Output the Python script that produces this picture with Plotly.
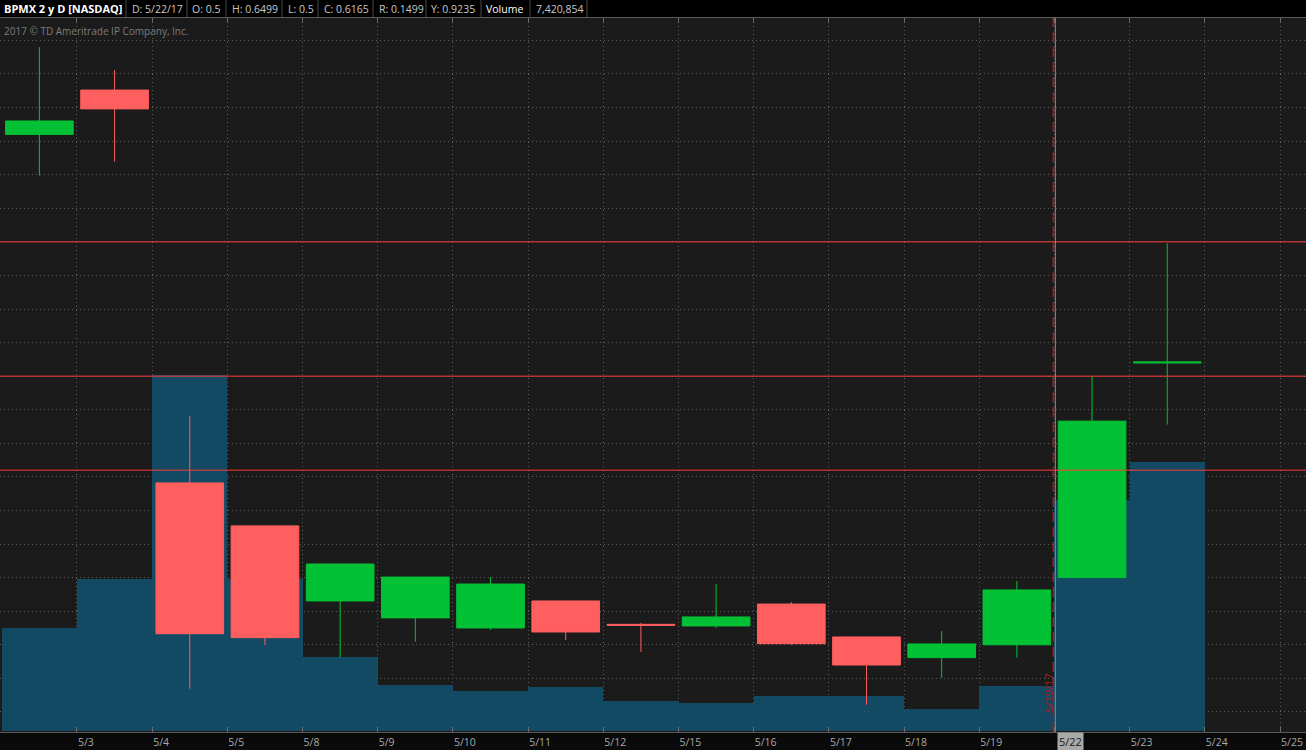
import plotly.graph_objects as go

# ---------------- data ----------------
dates = ["5/2", "5/3", "5/4", "5/5", "5/8", "5/9", "5/10", "5/11", "5/12",
         "5/15", "5/16", "5/17", "5/18", "5/19", "5/22", "5/23", "5/24", "5/25"]

opens = [0.830, 0.863, 0.5705, 0.5385, 0.4826, 0.4700, 0.4625, 0.4826, 0.4652,
         0.4640, 0.4803, 0.4558, 0.4404, 0.4500, 0.5000, 0.6598]
highs = [0.895, 0.878, 0.6203, 0.5385, 0.5101, 0.5004, 0.5004, 0.4826, 0.4662,
         0.4952, 0.4818, 0.4558, 0.4602, 0.4975, 0.6499, 0.7489]
lows = [0.7993, 0.8097, 0.4173, 0.4498, 0.4404, 0.4523, 0.4610, 0.4535, 0.4446,
        0.4625, 0.4498, 0.4054, 0.4255, 0.4404, 0.5000, 0.6139]
closes = [0.840, 0.849, 0.4582, 0.4553, 0.5101, 0.5004, 0.4952, 0.4595, 0.4645,
          0.4707, 0.4508, 0.4349, 0.4506, 0.4908, 0.6165, 0.6605]

volumes = [3310000, 4880000, 11420000, 4870000, 2380000, 1490000, 1290000, 1420000,
           960000, 900000, 1130000, 1135000, 715000, 1450000, 7420854, 8640000]

levels = [0.75, 0.65, 0.58]

cursor_date = "5/22"
event_label = "5/19/17"

header_items = [("BPMX 2 y D [NASDAQ]", 3, True, "#ffffff"),
                ("D: 5/22/17", 131, False, "#c8c8c8"),
                ("O: 0.5", 191, False, "#c8c8c8"),
                ("H: 0.6499", 231, False, "#c8c8c8"),
                ("L: 0.5", 287, False, "#c8c8c8"),
                ("C: 0.6165", 323, False, "#c8c8c8"),
                ("R: 0.1499", 378, False, "#c8c8c8"),
                ("Y: 0.9235", 430, False, "#c8c8c8"),
                ("Volume", 485, False, "#ffffff"),
                ("7,420,854", 535, False, "#c8c8c8")]
header_seps = [126, 187, 226, 282, 318, 373, 426, 481, 530, 587]

# ---------------- figure ----------------
W, H = 1306, 750
MT, MB = 18, 18
PH = H - MT - MB

n = len(opens)
xc = [i + 0.5 for i in range(n)]

GREEN = "#03c134"
RED = "#ff5f5f"

fig = go.Figure()

fig.add_trace(go.Bar(
    x=xc, y=volumes, width=1.0, yaxis="y",
    marker=dict(color="rgba(16,82,112,0.85)", line=dict(width=0)),
    hoverinfo="skip", showlegend=False))

fig.add_trace(go.Candlestick(
    x=xc, open=opens, high=highs, low=lows, close=closes, yaxis="y2",
    increasing=dict(line=dict(color=GREEN, width=1), fillcolor=GREEN),
    decreasing=dict(line=dict(color=RED, width=1), fillcolor=RED),
    whiskerwidth=0, showlegend=False))

px_per_day = 75.19
x0_px = 1.8
xr = [(0 - x0_px) / px_per_day, (W - x0_px) / px_per_day]

vol_px = 31.17 / 1e6
vol_range = [-1 / vol_px, (PH - 1) / vol_px]
price_range = [0.38503, 0.91668]

grid = dict(showgrid=True, gridcolor="#5c5c5c", gridwidth=1, griddash="1px,3px")

tick_text = [("" if d == cursor_date else d) for d in dates[1:]]

fig.update_layout(
    width=W, height=H,
    margin=dict(l=0, r=0, t=MT, b=MB, autoexpand=False),
    paper_bgcolor="#0a0a0a", plot_bgcolor="#1b1b1b",
    font=dict(family="Open Sans", color="#a8a8a8", size=10.5),
    boxgap=0.1, boxgroupgap=0,
    bargap=0,
    showlegend=False,
    hovermode=False,
    xaxis=dict(range=xr, tickmode="array",
               tickvals=list(range(1, len(dates))),
               ticktext=tick_text,
               ticks="inside", ticklen=5, tickcolor="#6a6a6a",
               showline=True, linecolor="#5a5a5a", linewidth=1, mirror="ticks",
               ticklabelposition="outside right",
               tickfont=dict(size=10.5, color="#a8a8a8"),
               rangeslider=dict(visible=False), zeroline=False, **grid),
    yaxis=dict(range=vol_range, showgrid=False, showticklabels=False,
               zeroline=False, ticks=""),
    yaxis2=dict(range=price_range, overlaying="y", side="right",
                tick0=0.5, dtick=0.025, showticklabels=False, ticks="",
                zeroline=False, **grid),
)

def py(y_px):
    return (H - MB - y_px) / PH

shapes = []
for lv in levels:
    shapes.append(dict(type="line", xref="paper", yref="y2", x0=0, x1=1, y0=lv, y1=lv,
                       line=dict(color="#ff3a3a", width=1), layer="above"))
# event / cursor vertical lines
shapes.append(dict(type="line", xref="x", yref="paper", x0=13.985, x1=13.985, y0=0, y1=1,
                   line=dict(color="#b5141c", width=1.5, dash="10px,5px"), layer="above"))
shapes.append(dict(type="line", xref="x", yref="paper", x0=14.012, x1=14.012, y0=0, y1=1,
                   line=dict(color="#8a8a8a", width=1), layer="above"))
# header bar
shapes.append(dict(type="rect", xref="paper", yref="paper", x0=0, x1=1,
                   y0=py(17), y1=py(0), fillcolor="#000000", line=dict(width=0), layer="above"))
for sx in header_seps:
    shapes.append(dict(type="line", xref="paper", yref="paper", x0=sx / W, x1=sx / W,
                       y0=py(17), y1=py(0), line=dict(color="#4a4a4a", width=1), layer="above"))
fig.update_layout(shapes=shapes)

ann = []
for text, x, bold, col in header_items:
    ann.append(dict(text=f"<b>{text}</b>" if bold else text, xref="paper", yref="paper",
                    x=x / W, y=py(8.5), xanchor="left", yanchor="middle", showarrow=False,
                    font=dict(size=11 if bold else 10.5, color=col,
                              family="Open Sans"), borderpad=0))
ann.append(dict(text="2017 © TD Ameritrade IP Company, Inc.", xref="paper", yref="paper",
                x=2 / W, y=py(31), xanchor="left", yanchor="middle", showarrow=False,
                font=dict(size=10, color="#7c7c7c")))
ann.append(dict(text=event_label, xref="x", yref="paper", x=13.91, y=py(693),
                xanchor="center", yanchor="middle", textangle=-90, showarrow=False,
                font=dict(size=11, color="#b3161d")))
ann.append(dict(text=cursor_date, xref="x", x=14.03, yref="paper", y=py(741.5),
                xanchor="left", yanchor="middle", showarrow=False,
                bgcolor="#a9a9a9", borderpad=1,
                font=dict(size=11, color="#1a1a1a")))
fig.update_layout(annotations=ann)

fig.write_html("out.html",
               config={"displayModeBar": False},
               post_script="document.body.style.margin='0';document.body.style.padding='0';")
